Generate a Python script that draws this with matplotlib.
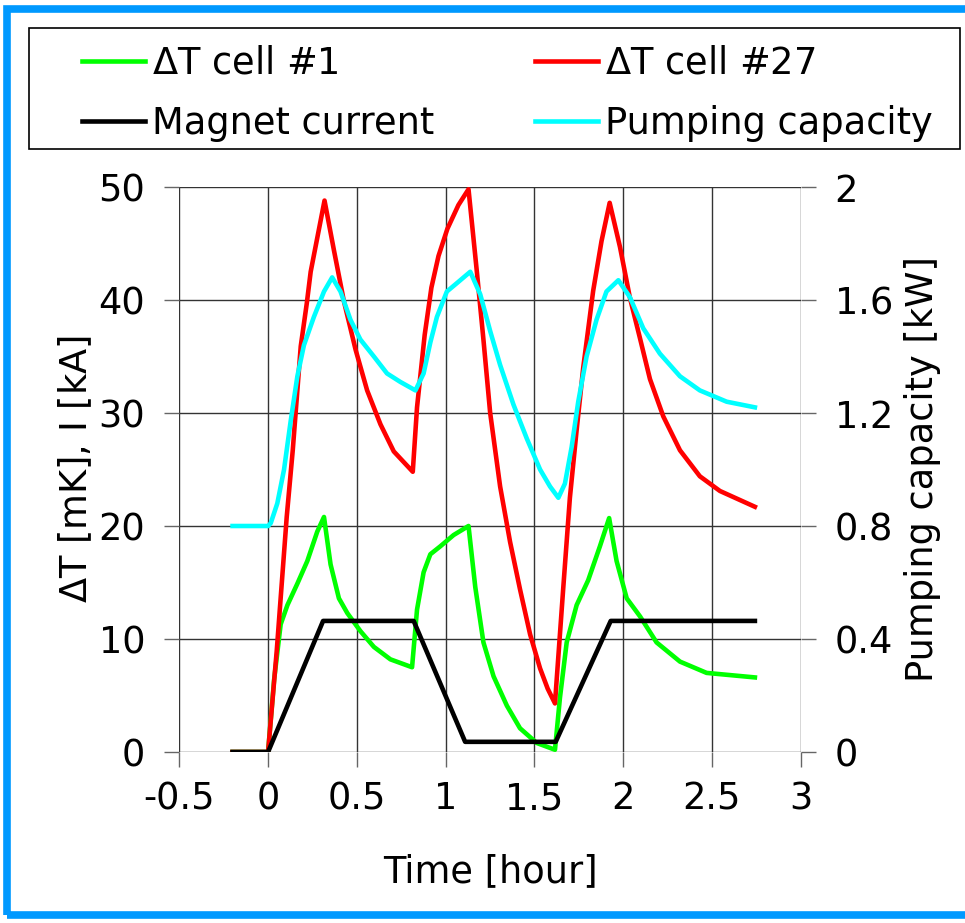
import matplotlib
matplotlib.use("Agg")
import matplotlib.pyplot as plt
from matplotlib.patches import Rectangle

plt.rcParams['font.family'] = 'DejaVu Sans'
plt.rcParams['font.size'] = 26.5

# dT cell #1 [mK]
t_cell1 = [-0.2, 0, 0.034, 0.071, 0.109, 0.165, 0.221, 0.277, 0.315, 0.352, 0.399, 0.446,
           0.52, 0.596, 0.689, 0.811, 0.839, 0.876, 0.914, 0.97, 1.045, 1.129, 1.167,
           1.213, 1.27, 1.345, 1.419, 1.513, 1.616, 1.644, 1.682, 1.738, 1.803, 1.869,
           1.921, 1.963, 2.02, 2.095, 2.188, 2.32, 2.47, 2.742]
dT_cell1 = [0, 0, 6.4, 11.3, 13.0, 14.9, 16.9, 19.5, 20.8, 16.6, 13.6, 12.3,
            10.7, 9.3, 8.2, 7.5, 12.6, 15.9, 17.5, 18.2, 19.2, 20.0, 14.6,
            9.7, 6.7, 4.1, 2.1, 0.8, 0.2, 4.8, 9.7, 13.0, 15.2, 18.2,
            20.7, 16.9, 13.6, 12.0, 9.7, 8.0, 7.0, 6.6]

# dT cell #27 [mK]
t_cell27 = [-0.2, 0, 0.049, 0.105, 0.139, 0.184, 0.218, 0.24, 0.318, 0.371, 0.427, 0.493,
            0.558, 0.633, 0.708, 0.815, 0.839, 0.882, 0.92, 0.96, 1.01, 1.072, 1.129,
            1.176, 1.213, 1.251, 1.307, 1.363, 1.419, 1.476, 1.532, 1.575, 1.616, 1.663,
            1.70, 1.738, 1.775, 1.831, 1.878, 1.924, 1.982, 2.038, 2.095, 2.151, 2.226,
            2.32, 2.432, 2.545, 2.742]
dT_cell27 = [0, 0, 9.0, 20.8, 26.7, 35.9, 39.7, 42.5, 48.8, 44.4, 39.9, 35.6,
             32.0, 29.0, 26.6, 24.8, 30.5, 36.9, 41.1, 43.9, 46.3, 48.4, 49.8,
             42.5, 36.5, 30.0, 23.5, 18.6, 14.4, 10.4, 7.4, 5.6, 4.3, 14.6,
             22.5, 28.5, 34.0, 40.8, 45.2, 48.6, 44.7, 40.2, 36.6, 33.0, 29.7,
             26.7, 24.4, 23.1, 21.7]

# magnet current [kA]
t_magnet = [-0.2, 0, 0.31, 0.82, 1.11, 1.62, 1.93, 2.742]
i_magnet = [0, 0, 11.6, 11.6, 0.9, 0.9, 11.6, 11.6]

# pumping capacity [kW]
t_pump = [-0.2, 0, 0.015, 0.052, 0.09, 0.127, 0.165, 0.202, 0.258, 0.315, 0.361, 0.408,
          0.464, 0.52, 0.596, 0.67, 0.745, 0.83, 0.876, 0.914, 0.951, 1.007, 1.064,
          1.139, 1.195, 1.251, 1.307, 1.382, 1.457, 1.532, 1.588, 1.635, 1.672, 1.71,
          1.747, 1.794, 1.85, 1.906, 1.973, 2.038, 2.113, 2.207, 2.32, 2.432, 2.583,
          2.742]
p_pump = [0.80, 0.80, 0.81, 0.88, 1.00, 1.17, 1.33, 1.44, 1.54, 1.63, 1.68, 1.63,
          1.53, 1.46, 1.40, 1.34, 1.31, 1.28, 1.34, 1.45, 1.54, 1.63, 1.66,
          1.70, 1.62, 1.49, 1.37, 1.23, 1.11, 1.00, 0.94, 0.90, 0.95, 1.08,
          1.24, 1.40, 1.53, 1.63, 1.67, 1.61, 1.50, 1.41, 1.33, 1.28, 1.24,
          1.22]

x_ticks = [-0.5, 0, 0.5, 1, 1.5, 2, 2.5, 3]
x_labels = ['-0.5', '0', '0.5', '1', '1.5', '2', '2.5', '3']
y_ticks = [0, 10, 20, 30, 40, 50]
y2_ticks = [0, 0.4, 0.8, 1.2, 1.6, 2]
y2_labels = ['0', '0.4', '0.8', '1.2', '1.6', '2']

W, H = 965, 923
fig = plt.figure(figsize=(W / 100, H / 100), dpi=100)
ax = fig.add_axes([179.3 / W, 1 - 752 / H, (800.7 - 179.3) / W, (752 - 187) / H])
ax2 = ax.twinx()

l1, = ax.plot(t_cell1, dT_cell1, color='#00ff00', lw=3.3, label=r'$\Delta$T cell #1')
l2, = ax.plot(t_cell27, dT_cell27, color='#ff0000', lw=3.3, label=r'$\Delta$T cell #27')
l3, = ax.plot(t_magnet, i_magnet, color='black', lw=3.3, label='Magnet current')
l4, = ax2.plot(t_pump, p_pump, color='#00ffff', lw=3.3, label='Pumping capacity')
for l in (l1, l2, l3, l4):
    l.set_solid_joinstyle('round')

ax.set_xlim(-0.5, 3)
ax.set_ylim(0, 50)
ax2.set_ylim(0, 2)
ax.set_xticks(x_ticks)
ax.set_xticklabels(x_labels)
ax.set_yticks(y_ticks)
ax2.set_yticks(y2_ticks)
ax2.set_yticklabels(y2_labels)

ax.grid(True, color='#333333', lw=1)
ax.set_axisbelow(True)
for a in (ax, ax2):
    for s in a.spines.values():
        s.set_visible(False)
ax.tick_params(axis='both', direction='out', length=10.5, width=1, color='#666666')
ax.tick_params(axis='y', pad=14)
ax.tick_params(axis='x', pad=10)
ax2.tick_params(axis='y', direction='out', length=10.5, width=1, color='#666666', pad=14)

ax.set_xlabel('Time [hour]', labelpad=26)
ax.set_ylabel(r'$\Delta$T [mK], I [kA]', labelpad=2)
ax2.set_ylabel('Pumping capacity [kW]', labelpad=8)

# legend box drawn separately so handles can sit where they do in the original
fig.patches.append(Rectangle((29 / W, 1 - 149 / H), (960 - 29) / W, (149 - 28) / H,
                             transform=fig.transFigure, fill=False, ec='black', lw=1.2))
fig.legend([l1, l3, l2, l4], [l1.get_label(), l3.get_label(), l2.get_label(), l4.get_label()],
           loc='upper left', bbox_to_anchor=(82 / W, 1 - 45 / H), ncol=2, frameon=False,
           borderpad=0, borderaxespad=0, handlelength=1.7, handletextpad=0.2,
           columnspacing=2.75, labelspacing=0.62)

# blue border
fig.patches.append(Rectangle((7 / W, 8 / H), 1.1, 1 - 17 / H, transform=fig.transFigure,
                             fill=False, ec='#0099ff', lw=5.5))

fig.savefig('out.png', dpi=100)
